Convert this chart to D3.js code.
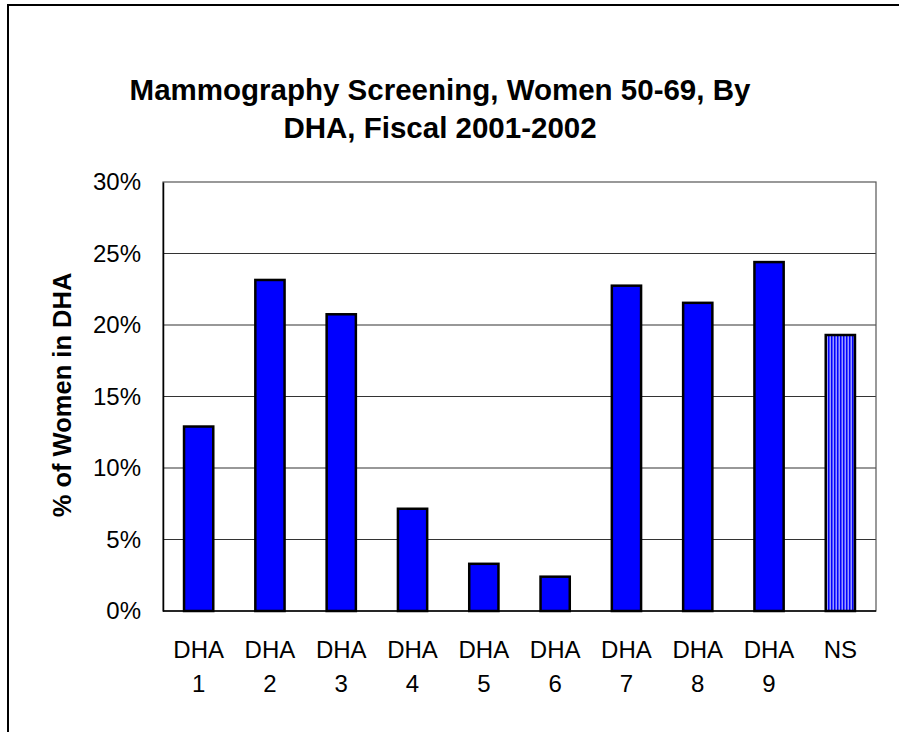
<!DOCTYPE html>
<html><head><meta charset="utf-8">
<script src="https://cdn.jsdelivr.net/npm/d3@7"></script>
<style>body{margin:0;background:#fff}svg{display:block}</style>
</head><body>
<script>
const categories = ["DHA 1","DHA 2","DHA 3","DHA 4","DHA 5","DHA 6","DHA 7","DHA 8","DHA 9","NS"];
const values = [12.9, 23.15, 20.75, 7.15, 3.3, 2.4, 22.75, 21.55, 24.4, 19.3];
const yTicks = [0,5,10,15,20,25,30];
const titleLines = ["Mammography Screening, Women 50-69, By","DHA, Fiscal 2001-2002"];
const yTitle = "% of Women in DHA";

const W=899,H=732;
const FONT="Arial, 'Liberation Sans', sans-serif";
const svg=d3.select("body").append("svg").attr("width",W).attr("height",H);
const defs=svg.append("defs");
const pat=defs.append("pattern").attr("id","stripes").attr("patternUnits","userSpaceOnUse").attr("width",3).attr("height",4);
pat.append("rect").attr("width",3).attr("height",4).attr("fill","#9a9aff");
pat.append("rect").attr("width",1.5).attr("height",4).attr("fill","#0000ff");

svg.append("rect").attr("x",8).attr("y",5).attr("width",W).attr("height",H).attr("fill","#fff").attr("stroke","#000").attr("stroke-width",2);

const m={l:163,t:182,r:876,b:611};
const x=d3.scaleBand().domain(categories).range([m.l,m.r]).paddingInner(0.59).paddingOuter(0.295);
const y=d3.scaleLinear().domain([0,30]).range([m.b,m.t]);

svg.append("g").selectAll("line").data(yTicks.slice(1,-1)).join("line")
 .attr("x1",m.l).attr("x2",m.r).attr("y1",d=>y(d)).attr("y2",d=>y(d)).attr("stroke","#333").attr("stroke-width",1.2);
svg.append("rect").attr("x",m.l).attr("y",m.t).attr("width",m.r-m.l).attr("height",m.b-m.t).attr("fill","none").attr("stroke","#555").attr("stroke-width",1.2);

const yAxis=d3.axisLeft(y).tickValues(yTicks).tickFormat(d=>d+"%").tickSize(0).tickPadding(22);
const ga=svg.append("g").attr("transform",`translate(${m.l},0)`).call(yAxis);
ga.select(".domain").attr("stroke","#000").attr("stroke-width",1.5);
ga.selectAll("text").attr("font-family",FONT).attr("font-size",24).attr("fill","#000");

svg.append("g").selectAll("rect").data(categories).join("rect")
 .attr("x",d=>x(d)).attr("width",x.bandwidth())
 .attr("y",(d,i)=>y(values[i])).attr("height",(d,i)=>y(0)-y(values[i]))
 .attr("fill",d=>d==="NS"?"url(#stripes)":"#0000ff").attr("stroke","#000").attr("stroke-width",2.5);

svg.append("line").attr("x1",m.l).attr("x2",m.r).attr("y1",m.b).attr("y2",m.b).attr("stroke","#000").attr("stroke-width",1.5);

const xl=svg.append("g").selectAll("text").data(categories).join("text")
 .attr("x",d=>x(d)+x.bandwidth()/2).attr("text-anchor","middle")
 .attr("font-family",FONT).attr("font-size",24).attr("fill","#000");
xl.each(function(d){
  const parts=d.split(" ");
  const t=d3.select(this);
  parts.forEach((p,i)=>t.append("tspan").attr("x",x(d)+x.bandwidth()/2).attr("y",658+i*34).text(p));
});

svg.append("text").attr("transform","translate(71,395) rotate(-90)").attr("text-anchor","middle")
 .attr("font-family",FONT).attr("font-weight","bold").attr("font-size",25.5).text(yTitle);

svg.append("g").selectAll("text").data(titleLines).join("text")
 .attr("x",440).attr("y",(d,i)=>100+i*38).attr("text-anchor","middle")
 .attr("font-family",FONT).attr("font-weight","bold").attr("font-size",29.5).text(d=>d);
</script>
</body></html>
